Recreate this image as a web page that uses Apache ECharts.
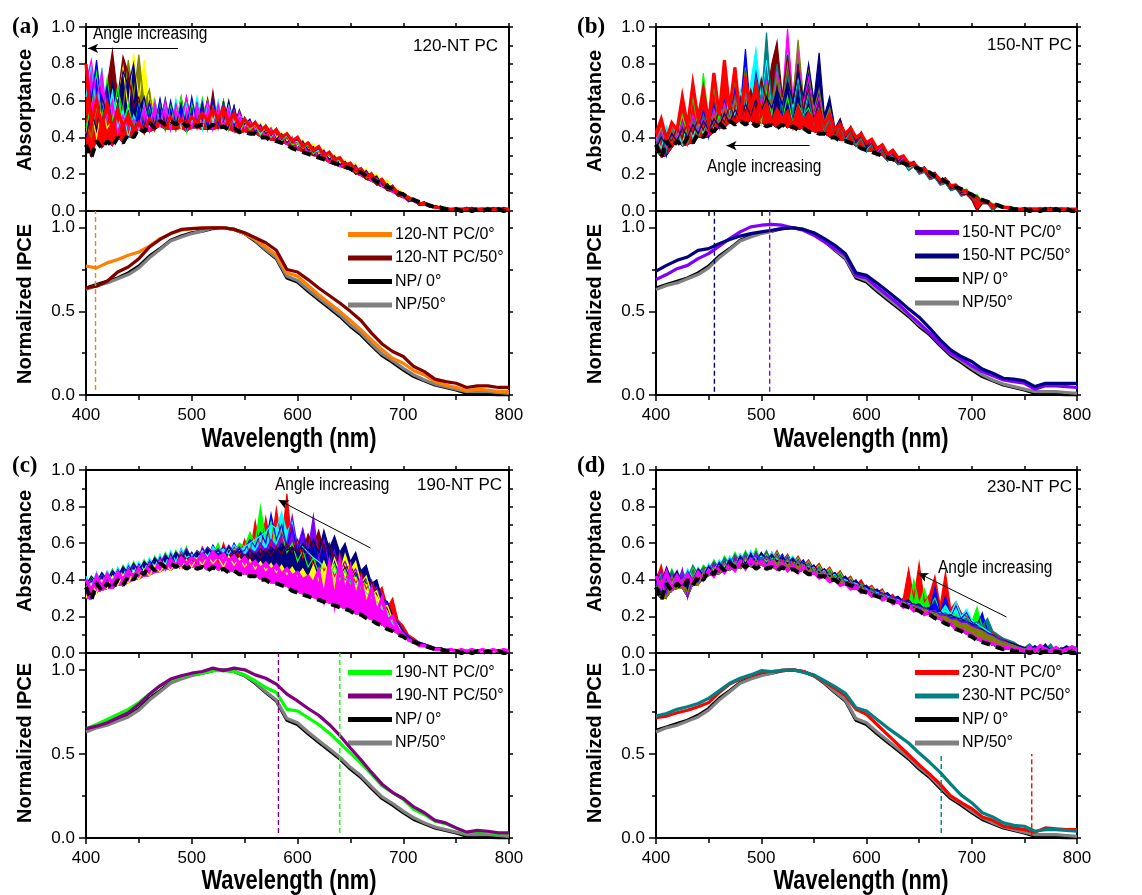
<!DOCTYPE html>
<html><head><meta charset="utf-8">
<script src="https://cdn.jsdelivr.net/npm/echarts@6/dist/echarts.min.js"></script>
<style>html,body{margin:0;padding:0;background:#fff}#c{width:1142px;height:895px}</style>
</head><body><div id="c"></div>
<script>
// ---------- x values ----------
const absWl = [400,405,410,415,420,425,430,435,440,445,450,455,460,465,470,475,480,485,490,495,500,505,510,515,520,525,530,535,540,545,550,555,560,565,570,575,580,585,590,595,600,605,610,615,620,625,630,635,640,645,650,655,660,665,670,675,680,685,690,695,700,705,710,715,720,725,730,735,740,745,750,755,760,765,770,775,780,785,790,795,800];
const ipceWl = [400,410,420,430,440,450,460,470,480,490,500,510,520,530,540,550,560,570,580,590,600,610,620,630,640,650,660,670,680,690,700,710,720,730,740,750,760,770,780,790,800];

// ---------- NP absorptance (dashed, same film in every panel) ----------
const npAbs = [.36,.29,.38,.34,.38,.35,.40,.37,.42,.40,.45,.43,.48,.45,.49,.47,.49,.47,.49,.46,.48,.46,.47,.45,.47,.45,.46,.44,.45,.43,.43,.42,.42,.40,.40,.38,.38,.37,.36,.34,.33,.32,.31,.30,.29,.28,.27,.26,.25,.24,.23,.21,.21,.19,.18,.16,.15,.13,.12,.10,.09,.07,.06,.05,.04,.03,.02,.02,.01,.01,.01,0,.01,0,.01,0,.01,0,.01,0,0];

// ---------- (a) 120-NT PC absorptance ----------
const a_yellow = [.42,.55,.40,.58,.45,.50,.62,.78,.55,.86,.60,.82,.58,.62,.46,.60,.48,.58,.45,.60,.47,.60,.46,.62,.48,.58,.45,.60,.46,.55,.46,.50,.44,.48,.42,.46,.40,.43,.38,.41,.35,.39,.33,.37,.31,.34,.29,.31,.26,.28,.24,.26,.21,.23,.19,.20,.16,.17,.13,.12,.10,.08,.07,.05,.05,.03,.03,.02,.02,.01,.01,.02,.01,.01,.02,.01,.01,.02,.01,.01,.01];
const a_olive = [.48,.40,.56,.45,.60,.50,.66,.55,.82,.62,.85,.58,.66,.46,.60,.44,.58,.47,.62,.45,.59,.46,.61,.44,.58,.47,.60,.44,.57,.45,.50,.45,.48,.43,.47,.41,.45,.38,.42,.36,.40,.34,.37,.31,.35,.29,.32,.27,.29,.25,.26,.22,.23,.18,.21,.16,.18,.12,.14,.09,.10,.06,.07,.04,.05,.02,.03,.02,.02,.01,.02,.01,.01,.02,.01,.01,.01,.01,.02,.01,.01];
const a_wine = [.52,.45,.60,.48,.68,.87,.62,.84,.75,.56,.62,.46,.59,.44,.60,.47,.58,.44,.61,.48,.60,.45,.58,.46,.65,.45,.60,.47,.57,.44,.51,.44,.49,.42,.46,.40,.44,.37,.41,.36,.38,.33,.36,.30,.33,.28,.31,.25,.28,.23,.25,.20,.22,.17,.19,.14,.16,.11,.12,.08,.09,.05,.06,.03,.04,.02,.02,.01,.02,.01,.01,.01,.02,.01,.01,.01,.02,.01,.01,.01,.01];
const a_navy = [.40,.55,.44,.62,.50,.70,.58,.76,.68,.80,.55,.62,.46,.60,.47,.61,.45,.59,.48,.62,.46,.60,.48,.61,.45,.58,.47,.60,.46,.55,.47,.50,.43,.47,.42,.45,.39,.42,.37,.40,.34,.38,.33,.35,.30,.33,.28,.30,.25,.27,.23,.25,.20,.22,.18,.19,.14,.15,.11,.11,.08,.08,.05,.05,.03,.03,.02,.02,.01,.01,.01,.01,.01,.02,.01,.01,.01,.01,.01,.02,.01];
const a_green = [.45,.58,.75,.52,.72,.48,.68,.47,.58,.44,.58,.44,.57,.46,.60,.44,.58,.47,.62,.43,.59,.46,.61,.44,.57,.47,.60,.45,.56,.42,.49,.44,.47,.41,.46,.41,.44,.38,.41,.36,.37,.34,.36,.31,.33,.29,.31,.26,.28,.24,.25,.21,.22,.18,.20,.15,.17,.12,.13,.09,.09,.06,.06,.04,.04,.03,.02,.02,.01,.01,.02,.01,.01,.01,.01,.02,.01,.01,.01,.01,.01];
const a_cyan = [.62,.80,.55,.78,.50,.65,.45,.55,.40,.52,.44,.58,.46,.60,.47,.59,.44,.61,.46,.58,.47,.62,.44,.59,.47,.60,.46,.57,.48,.52,.50,.45,.48,.42,.46,.40,.44,.39,.41,.37,.38,.34,.36,.32,.33,.30,.31,.27,.28,.25,.24,.22,.22,.19,.19,.16,.16,.13,.12,.10,.09,.07,.06,.05,.04,.03,.03,.02,.02,.01,.01,.01,.01,.01,.01,.01,.02,.01,.01,.01,.01];
const a_blue = [.78,.60,.82,.55,.68,.46,.58,.44,.54,.42,.57,.44,.59,.46,.61,.45,.60,.47,.58,.45,.62,.47,.59,.45,.60,.47,.59,.46,.57,.44,.50,.46,.48,.43,.46,.41,.45,.39,.42,.37,.39,.35,.37,.32,.34,.29,.32,.27,.29,.24,.26,.22,.23,.19,.20,.15,.17,.12,.14,.09,.10,.06,.07,.04,.05,.02,.03,.02,.01,.01,.01,.01,.02,.01,.01,.01,.01,.02,.01,.01,.01];
const a_magenta = [.70,.82,.60,.76,.50,.60,.42,.52,.45,.50,.45,.57,.43,.59,.46,.60,.44,.58,.47,.62,.45,.58,.47,.60,.44,.58,.46,.56,.43,.54,.45,.49,.44,.46,.40,.45,.38,.41,.36,.40,.34,.37,.31,.34,.29,.32,.26,.29,.24,.26,.22,.24,.19,.21,.16,.18,.13,.14,.10,.11,.07,.08,.05,.05,.03,.03,.02,.02,.01,.01,.01,.01,.01,.01,.01,.01,.01,.01,.01,.01,.01];
const a_red = [.80,.48,.60,.45,.58,.44,.55,.46,.52,.44,.48,.43,.50,.45,.49,.46,.51,.46,.50,.47,.51,.48,.53,.49,.55,.50,.56,.48,.53,.46,.50,.46,.48,.44,.46,.42,.44,.40,.42,.38,.40,.35,.37,.33,.35,.30,.32,.28,.29,.25,.26,.22,.23,.19,.20,.16,.17,.13,.13,.10,.09,.07,.06,.04,.04,.03,.02,.02,.01,.01,.01,.01,.01,.01,.01,.01,.01,.01,.01,.01,.01];

// ---------- (b) 150-NT PC absorptance ----------
const b_green = [.38,.45,.33,.48,.40,.52,.42,.62,.45,.75,.50,.68,.48,.80,.52,.72,.50,.78,.55,.70,.48,.66,.52,.75,.50,.62,.48,.58,.52,.56,.48,.55,.44,.52,.42,.47,.40,.45,.38,.42,.36,.39,.33,.36,.31,.33,.28,.30,.25,.27,.23,.24,.20,.21,.17,.18,.14,.15,.11,.12,.08,.09,.05,.06,.04,.04,.03,.02,.02,.01,.01,.02,.01,.01,.02,.01,.01,.01,.02,.01,.01];
const b_blue = [.35,.42,.30,.45,.38,.48,.36,.50,.42,.55,.40,.58,.45,.60,.50,.66,.55,.88,.52,.75,.58,.82,.55,.78,.50,.85,.52,.80,.56,.62,.50,.58,.46,.52,.43,.48,.40,.45,.37,.42,.34,.38,.32,.35,.29,.32,.27,.29,.24,.26,.22,.23,.19,.20,.16,.17,.13,.14,.10,.11,.07,.08,.05,.05,.03,.03,.02,.02,.01,.01,.02,.01,.01,.01,.01,.02,.01,.01,.01,.01,.01];
const b_cyan = [.40,.34,.46,.38,.44,.36,.50,.40,.48,.42,.55,.45,.58,.48,.62,.52,.66,.55,.70,.88,.60,.82,.56,.76,.62,.86,.55,.72,.50,.66,.48,.56,.45,.50,.42,.47,.39,.44,.36,.40,.33,.37,.31,.34,.28,.31,.26,.28,.23,.25,.21,.22,.18,.19,.15,.16,.12,.13,.09,.10,.07,.07,.04,.05,.03,.03,.02,.02,.01,.01,.01,.01,.02,.01,.01,.01,.01,.01,.02,.01,.01];
const b_teal = [.36,.42,.32,.44,.38,.46,.40,.50,.42,.52,.45,.55,.48,.58,.50,.62,.52,.65,.55,.72,.60,.97,.58,.80,.55,.75,.52,.70,.50,.62,.47,.55,.44,.50,.41,.46,.38,.43,.35,.40,.32,.36,.30,.33,.27,.30,.25,.27,.22,.24,.20,.21,.17,.18,.14,.15,.11,.12,.08,.09,.06,.06,.04,.04,0,.03,.02,.02,.01,.01,.01,.01,.01,.02,.01,.01,.01,.01,.01,.01,.01];
const b_magenta = [.38,.44,.35,.46,.40,.48,.38,.52,.44,.50,.42,.55,.46,.58,.48,.60,.52,.63,.55,.66,.58,.70,.55,.75,.60,.99,.62,.88,.58,.72,.52,.62,.47,.54,.43,.50,.40,.45,.37,.42,.35,.38,.32,.35,.29,.32,.26,.29,.24,.26,.21,.23,.18,.20,.15,.17,.12,.14,.09,.10,.07,.07,.05,.04,.03,.03,.02,.02,.01,.01,.01,.01,.01,.01,.02,.01,.01,.01,.01,.01,.01];
const b_olive = [.33,.40,.36,.45,.38,.42,.36,.48,.40,.46,.44,.52,.48,.56,.50,.60,.52,.62,.55,.65,.52,.68,.56,.72,.58,.80,.60,.93,.62,.78,.55,.66,.48,.56,.44,.50,.41,.46,.38,.43,.36,.39,.33,.36,.30,.33,.27,.30,.25,.27,.22,.24,.19,.21,.16,.18,.13,.14,.10,.11,.07,.08,.05,.05,.03,.03,.02,.02,.01,.01,.01,.02,.01,.01,.01,.01,.01,.02,.01,.01,.01];
const b_wine = [.36,.32,.42,.38,.45,.40,.48,.42,.50,.44,.52,.46,.55,.48,.58,.50,.62,.54,.66,.56,.72,.60,.80,.92,.62,.85,.58,.78,.55,.66,.50,.58,.46,.52,.42,.48,.40,.44,.37,.41,.34,.37,.31,.34,.29,.31,.26,.28,.24,.25,.21,.22,.18,.19,.15,.16,.12,.13,.09,.09,.06,0,.04,.04,.03,.03,.02,.01,.01,.01,.01,.01,.01,.01,.01,.01,.02,.01,.01,.01,.01];
const b_navy = [.34,.40,.36,.42,.38,.45,.40,.47,.42,.49,.44,.50,.46,.53,.48,.55,.50,.58,.52,.60,.54,.62,.56,.66,.58,.70,.60,.75,.62,.80,.60,.86,.52,.62,.45,.50,.41,.46,.38,.43,.35,.39,.33,.36,.30,.33,.27,.30,.25,.27,.22,.24,.19,.21,.16,.18,.13,.14,.10,.11,.07,.08,.05,.05,.03,.03,.02,.02,.01,.01,.01,.01,.01,.01,.01,.02,.01,.01,.01,.01,.01];
const b_red = [.42,.50,.39,.48,.44,.62,.46,.69,.50,.66,.48,.75,.52,.82,.55,.78,.50,.72,.56,.68,.52,.58,.48,.55,.50,.54,.46,.56,.48,.53,.49,.54,.47,.52,.44,.47,.42,.45,.40,.42,.37,.39,.34,.36,.31,.33,.29,.30,.26,.26,.23,.23,.20,.20,.17,.17,.14,.14,.11,.11,.08,.07,.05,.05,.03,.03,.02,.02,.01,.01,.01,.01,.01,.01,.01,.01,.01,.01,.01,.01,.01];

// ---------- (c) 190-NT PC absorptance ----------
const c_red = [.40,.33,.44,.36,.42,.38,.45,.40,.44,.41,.47,.42,.50,.44,.52,.46,.54,.48,.56,.50,.55,.49,.58,.52,.56,.50,.60,.52,.58,.53,.62,.54,.72,.56,.74,.58,.79,.60,.87,.58,.62,.52,.56,.48,.52,.45,.50,.42,.48,.40,.46,.38,.44,.35,.40,.32,.36,.25,.30,.18,.15,.10,.08,.06,.05,.04,.03,.03,.02,.02,.02,.01,.01,.02,.01,.01,.01,.01,.02,.01,.01];
const c_green = [.36,.42,.38,.44,.40,.46,.41,.48,.43,.50,.44,.51,.46,.53,.48,.55,.50,.56,.52,.58,.50,.56,.52,.58,.54,.60,.52,.57,.55,.60,.58,.66,.60,.80,.62,.72,.58,.66,.55,.60,.50,.56,.47,.52,.44,.50,.42,.48,.40,.45,.38,.43,.35,.40,.30,.34,.24,.26,.17,.16,.11,.08,.07,.05,.04,.04,.03,.02,.02,.01,.01,.02,.01,.01,.01,.01,.02,.01,.01,.01,.01];
const c_blue = [.38,.34,.42,.37,.44,.39,.46,.41,.48,.43,.49,.44,.51,.46,.53,.47,.55,.49,.57,.51,.55,.50,.57,.52,.59,.54,.58,.53,.60,.55,.56,.62,.58,.66,.60,.76,.62,.70,.58,.68,.56,.67,.52,.60,.48,.55,.45,.50,.42,.47,.40,.44,.37,.41,.32,.35,.25,.28,.18,.17,.12,.09,.07,.06,.05,.04,.03,.03,.02,.02,.01,.01,.02,.01,.01,.01,.01,.02,.01,.01,.01];
const c_cyan = [.42,.37,.44,.38,.45,.40,.47,.42,.49,.44,.50,.45,.52,.47,.54,.48,.56,.50,.57,.52,.54,.51,.56,.53,.58,.55,.57,.54,.59,.56,.58,.60,.62,.64,.66,.70,.68,.77,.66,.72,.60,.58,.55,.52,.50,.47,.46,.44,.43,.41,.40,.38,.36,.33,.30,.28,.24,.22,.16,.14,.10,.08,.06,.05,.04,.03,.03,.02,.02,.01,.01,.01,.01,.01,.02,.01,.01,.01,.01,.01,.01];
const c_violet = [.35,.40,.37,.43,.39,.45,.41,.47,.43,.48,.45,.50,.47,.52,.49,.54,.50,.55,.52,.57,.52,.56,.54,.58,.55,.57,.54,.59,.55,.58,.53,.57,.55,.60,.56,.62,.58,.65,.60,.75,.58,.68,.56,.75,.52,.62,.48,.56,.45,.50,.42,.46,.38,.42,.33,.36,.26,.27,.18,.15,.10,.08,.06,.05,.04,.03,.03,.02,.02,.02,.01,.01,.01,.02,.01,.01,.01,.01,.01,.01,.01];
const c_wine = [.39,.35,.41,.37,.43,.39,.45,.40,.46,.42,.47,.43,.49,.45,.51,.47,.52,.48,.54,.50,.51,.49,.53,.51,.55,.52,.54,.51,.56,.52,.54,.51,.55,.52,.57,.53,.58,.54,.60,.55,.62,.55,.65,.58,.67,.56,.60,.50,.54,.46,.48,.42,.44,.38,.38,.32,.28,.24,.18,.14,.10,.07,.06,.04,.04,.03,.02,.02,.01,.01,.01,.02,.01,.01,.01,.01,.01,.02,.01,.01,.01];
const c_navy = [.37,.42,.39,.44,.40,.45,.42,.47,.44,.49,.45,.50,.47,.52,.48,.53,.50,.55,.51,.56,.52,.55,.53,.57,.54,.56,.53,.58,.54,.57,.52,.56,.53,.57,.54,.58,.55,.60,.56,.58,.54,.60,.56,.62,.55,.67,.57,.64,.55,.60,.50,.55,.45,.48,.38,.40,.30,.28,.20,.16,.11,.08,.06,.05,.04,.03,.03,.02,.02,.01,.01,.01,.01,.01,.01,.02,.01,.01,.01,.01,.01];
const c_yellow = [.30,.38,.33,.40,.35,.42,.37,.43,.38,.45,.40,.46,.42,.48,.44,.49,.45,.50,.46,.51,.47,.52,.48,.53,.49,.52,.47,.53,.48,.52,.47,.51,.46,.50,.45,.49,.44,.48,.43,.47,.42,.46,.41,.48,.40,.50,.42,.52,.44,.54,.45,.50,.38,.42,.32,.34,.25,.26,.18,.15,.10,.07,.06,.04,.03,.03,.02,.02,.01,.01,.01,.01,.02,.01,.01,.01,.01,.01,.01,.02,.01];
const c_magenta = [.40,.34,.42,.36,.43,.38,.44,.40,.45,.42,.46,.43,.48,.45,.50,.46,.51,.48,.52,.49,.52,.50,.54,.51,.55,.52,.54,.50,.53,.49,.52,.48,.50,.46,.49,.45,.48,.43,.46,.42,.44,.40,.42,.38,.45,.30,.48,.28,.50,.32,.46,.30,.40,.25,.35,.22,.30,.18,.20,.13,.10,.07,.06,.04,.04,.03,.02,.02,.01,.02,.01,.02,.01,.02,.01,.02,.01,.02,.01,.02,.01];

// ---------- (d) 230-NT PC absorptance ----------
const d_red = [.40,.48,.36,.45,.38,.44,.40,.46,.41,.47,.44,.50,.45,.52,.47,.54,.48,.55,.50,.56,.49,.55,.51,.56,.50,.54,.49,.53,.48,.51,.46,.49,.44,.47,.42,.45,.40,.42,.37,.40,.35,.37,.33,.35,.30,.32,.28,.30,.46,.30,.49,.28,.32,.42,.26,.44,.24,.28,.22,.20,.18,.16,.15,.12,.11,.09,.08,.06,.05,.04,.03,.02,.03,.01,.02,.01,.03,.02,.01,.02,.02];
const d_green = [.36,.44,.38,.46,.40,.45,.39,.47,.42,.48,.45,.51,.46,.53,.48,.55,.49,.56,.50,.57,.50,.54,.51,.55,.49,.53,.48,.52,.47,.50,.45,.48,.43,.46,.41,.44,.39,.41,.36,.38,.34,.36,.32,.34,.30,.31,.28,.29,.26,.40,.27,.35,.25,.30,.23,.24,.22,.21,.20,.19,.17,.25,.14,.12,.10,.08,.07,.05,.04,.03,.02,.03,.01,.02,.03,.01,.02,.01,.02,.01,.02];
const d_blue = [.38,.33,.42,.36,.44,.38,.45,.40,.46,.42,.48,.44,.50,.46,.52,.48,.54,.49,.55,.50,.54,.49,.55,.50,.54,.49,.52,.48,.51,.46,.48,.44,.46,.42,.44,.40,.41,.38,.39,.36,.36,.33,.34,.31,.32,.29,.30,.27,.28,.25,.26,.24,.23,.36,.22,.31,.20,.26,.19,.22,.17,.15,.22,.12,.10,.08,.06,.05,.04,.03,.03,.02,.04,.01,.02,.02,.01,.03,.01,.02,.02];
const d_cyan = [.42,.36,.44,.37,.43,.39,.46,.41,.47,.43,.49,.45,.51,.47,.53,.48,.54,.50,.56,.51,.53,.50,.55,.51,.53,.50,.53,.48,.50,.47,.47,.45,.45,.43,.43,.41,.40,.39,.38,.37,.35,.34,.33,.32,.31,.30,.29,.28,.27,.26,.25,.24,.23,.22,.22,.26,.21,.28,.20,.24,.18,.16,.14,.12,.10,.08,.07,.05,.04,.03,.02,.03,.02,.01,.02,.01,.02,.02,.01,.03,.01];
const d_teal = [.35,.42,.37,.45,.39,.44,.41,.48,.43,.47,.46,.50,.47,.52,.49,.54,.50,.55,.51,.54,.51,.56,.50,.54,.49,.53,.47,.51,.46,.49,.44,.47,.42,.45,.40,.43,.38,.40,.36,.38,.34,.35,.32,.33,.30,.31,.28,.29,.26,.27,.25,.25,.23,.23,.21,.22,.20,.20,.18,.19,.16,.17,.15,.19,.12,.10,.08,.07,.06,.04,.03,.05,.02,.04,.02,.05,.01,.03,.02,.04,.03];
const d_olive = [.33,.40,.30,.42,.35,.40,.33,.43,.37,.44,.42,.47,.43,.49,.45,.50,.46,.52,.47,.51,.48,.52,.49,.53,.47,.51,.46,.50,.45,.48,.43,.46,.41,.44,.39,.42,.37,.39,.35,.37,.33,.34,.31,.32,.29,.30,.27,.28,.25,.26,.24,.24,.22,.22,.20,.20,.18,.18,.16,.16,.14,.13,.12,.10,.09,.07,.06,.05,.04,.03,.02,.02,.01,.01,.02,.01,.01,.02,.01,.01,.01];
const d_navy = [.44,.38,.47,.40,.45,.38,.44,.40,.46,.43,.47,.44,.49,.46,.51,.47,.53,.49,.54,.50,.55,.51,.54,.50,.53,.49,.52,.48,.50,.46,.48,.44,.46,.42,.44,.40,.42,.38,.40,.36,.37,.34,.35,.32,.33,.30,.31,.28,.29,.26,.27,.24,.25,.22,.23,.20,.21,.19,.19,.17,.16,.14,.13,.11,.10,.08,.07,.06,.05,.04,.03,.02,.04,.02,.05,.01,.03,.02,.04,.02,.03];
const d_violet = [.37,.45,.33,.43,.36,.46,.30,.41,.38,.44,.43,.49,.45,.50,.46,.52,.48,.53,.49,.55,.50,.53,.49,.54,.48,.52,.47,.51,.45,.49,.44,.46,.42,.44,.40,.42,.38,.40,.36,.37,.34,.35,.32,.33,.30,.31,.28,.29,.26,.27,.24,.25,.23,.23,.21,.21,.19,.19,.17,.17,.15,.14,.12,.11,.09,.08,.07,.05,.04,.03,.02,.01,.02,.01,.03,.01,.02,.01,.02,.01,.02];
const d_magenta = [.42,.36,.44,.35,.42,.37,.43,.38,.44,.40,.45,.42,.47,.44,.48,.45,.50,.46,.51,.47,.50,.47,.50,.46,.49,.45,.48,.44,.47,.43,.44,.41,.42,.39,.40,.37,.38,.35,.36,.33,.34,.31,.32,.29,.30,.27,.28,.25,.26,.23,.24,.21,.22,.19,.19,.16,.16,.13,.13,.11,.10,.08,.07,.06,.05,.04,.03,.03,.02,.02,.01,.03,.01,.04,.02,.01,.03,.01,.02,.03,.02];

// ---------- normalized IPCE ----------
const npIpce0 = [.64,.66,.68,.70,.73,.77,.83,.875,.925,.95,.97,.98,.995,1.0,.99,.965,.92,.865,.815,.70,.675,.62,.57,.52,.47,.41,.36,.295,.235,.195,.15,.11,.085,.06,.045,.03,.01,.005,.005,0,0];
const npIpce50 = [.63,.655,.67,.695,.72,.76,.82,.87,.92,.945,.965,.98,1.0,1.0,.99,.965,.925,.87,.82,.71,.685,.63,.58,.53,.48,.42,.37,.305,.245,.205,.16,.12,.09,.065,.05,.035,.02,.02,.02,.015,.01];
const ipce120_0 = [.77,.76,.79,.81,.835,.855,.89,.935,.965,.985,.995,1.0,1.0,1.0,.99,.965,.93,.885,.835,.73,.71,.655,.60,.55,.50,.445,.39,.33,.27,.22,.19,.145,.12,.08,.06,.045,.025,.035,.03,.02,.02];
const ipce120_50 = [.64,.65,.68,.735,.765,.815,.885,.93,.965,.99,.995,.998,1.0,1.0,.99,.97,.94,.91,.865,.75,.735,.69,.64,.595,.55,.50,.445,.37,.305,.26,.23,.17,.14,.095,.08,.07,.045,.055,.055,.045,.045];
const ipce150_0 = [.69,.72,.755,.775,.815,.845,.89,.935,.975,1.005,1.015,1.02,1.015,1.0,.985,.955,.915,.875,.835,.715,.70,.645,.595,.545,.485,.43,.37,.305,.25,.215,.175,.14,.115,.09,.08,.07,.035,.055,.055,.05,.045];
const ipce150_50 = [.74,.775,.805,.825,.865,.875,.905,.93,.95,.965,.975,.985,.995,1.0,.99,.97,.935,.895,.845,.73,.715,.67,.62,.57,.515,.465,.40,.33,.27,.23,.20,.155,.13,.10,.095,.085,.05,.07,.07,.07,.07];
const ipce190_0 = [.65,.675,.705,.735,.765,.805,.855,.905,.94,.96,.975,.98,.995,.995,.99,.97,.935,.895,.865,.765,.755,.715,.675,.625,.565,.505,.445,.38,.31,.27,.23,.17,.14,.10,.085,.06,.03,.04,.035,.025,.025];
const ipce190_50 = [.65,.665,.685,.715,.745,.795,.855,.905,.945,.965,.98,.99,1.01,.995,1.01,1.0,.97,.95,.915,.855,.815,.77,.73,.675,.61,.535,.465,.39,.32,.27,.235,.185,.15,.105,.09,.06,.035,.045,.04,.03,.03];
const ipce230_0 = [.715,.725,.745,.76,.78,.805,.865,.915,.945,.965,.985,.99,.995,1.0,.99,.965,.93,.89,.845,.765,.735,.675,.615,.555,.495,.435,.38,.32,.25,.21,.175,.125,.105,.07,.06,.05,.035,.06,.055,.05,.05];
const ipce230_50 = [.725,.74,.765,.78,.80,.83,.875,.92,.95,.97,.995,.99,.995,1.0,.985,.97,.935,.90,.86,.775,.755,.705,.655,.61,.565,.505,.45,.39,.32,.255,.21,.15,.125,.09,.075,.07,.04,.05,.05,.045,.04];

// vertical markers: [wavelength, from, to]
const vlineA0 = [409, 0.03, 1.1];
const vlineB0 = [508, 0.02, 1.1];
const vlineB50 = [455.5, 0.02, 1.1];
const vlineC0 = [640, 0.03, 1.1];
const vlineC50 = [582, 0.03, 1.1];
const vlineD0 = [757, 0.01, 0.5];
const vlineD50 = [671, 0.03, 0.5];

// "Angle increasing" arrows: [tail], [head] in data units
const arrowA = [[487, 0.884], [402, 0.884]];
const arrowB = [[546, 0.355], [467, 0.355]];
const arrowC = [[669, 0.574], [582, 0.836]];
const arrowD = [[733, 0.197], [649, 0.437]];

const legendNames = {
  a: ['120-NT PC/0°', '120-NT PC/50°'],
  b: ['150-NT PC/0°', '150-NT PC/50°'],
  c: ['190-NT PC/0°', '190-NT PC/50°'],
  d: ['230-NT PC/0°', '230-NT PC/50°']
};
const npNames = ['NP/ 0°', 'NP/50°'];
const sampleNames = ['120-NT PC', '150-NT PC', '190-NT PC', '230-NT PC'];
const panelLetters = ['(a)', '(b)', '(c)', '(d)'];

// ---------- build ----------
const FONT = "'Liberation Sans', Arial, sans-serif";
const SERIF = "'Liberation Serif', 'Times New Roman', serif";

// topMode: 'last' = highlighted curve filled above the other bands, 'line' = line only
const panels = [
  { abs: [[a_yellow,'#FFFF00'],[a_olive,'#808000'],[a_wine,'#800000'],[a_navy,'#000080'],[a_green,'#00FF00'],[a_cyan,'#00FFFF'],[a_blue,'#0000FF'],[a_magenta,'#FF00FF']],
    top: [a_red,'#FF0000'], topMode: 'last', pc0: [ipce120_0,'#FF8000'], pc50: [ipce120_50,'#800000'], names: legendNames.a,
    v0: vlineA0, v50: null, arrow: arrowA },
  { abs: [[b_green,'#00FF00'],[b_blue,'#0000FF'],[b_cyan,'#00FFFF'],[b_teal,'#008080'],[b_magenta,'#FF00FF'],[b_olive,'#808000'],[b_wine,'#800000'],[b_navy,'#000080']],
    top: [b_red,'#FF0000'], topMode: 'last', pc0: [ipce150_0,'#8000FF'], pc50: [ipce150_50,'#000080'], names: legendNames.b,
    v0: vlineB0, v50: vlineB50, arrow: arrowB },
  { abs: [[c_red,'#FF0000'],[c_green,'#00FF00'],[c_blue,'#0000FF'],[c_cyan,'#00FFFF'],[c_violet,'#8000FF'],[c_wine,'#800000'],[c_navy,'#000080'],[c_yellow,'#FFFF00']],
    top: [c_magenta,'#FF00FF'], topMode: 'last', pc0: [ipce190_0,'#00FF00'], pc50: [ipce190_50,'#800080'], names: legendNames.c,
    v0: vlineC0, v50: vlineC50, arrow: arrowC },
  { abs: [[d_red,'#FF0000'],[d_green,'#00FF00'],[d_blue,'#0000FF'],[d_cyan,'#00FFFF'],[d_teal,'#008080'],[d_navy,'#000080'],[d_violet,'#8000FF'],[d_olive,'#808000']],
    top: [d_magenta,'#FF00FF'], topMode: 'line', pc0: [ipce230_0,'#FF0000'], pc50: [ipce230_50,'#008080'], names: legendNames.d,
    v0: vlineD0, v50: vlineD50, arrow: arrowD }
];

const layout = [
  { abs:{left:86, top:27, width:423, height:184}, ipce:{left:86, top:211, width:423, height:184},
    legend:{left:348, top:225}, letter:[12,27], sample:[498,46], angle:[93,34], yTitleX:25, absTitleY:110, ipceTitleY:304, wlTitle:[289,439] },
  { abs:{left:656, top:27, width:421, height:184}, ipce:{left:656, top:211, width:421, height:184},
    legend:{left:915, top:223}, letter:[577,27], sample:[1072,45], angle:[707,167], yTitleX:595, absTitleY:111, ipceTitleY:304, wlTitle:[861,439] },
  { abs:{left:86, top:470, width:423, height:183}, ipce:{left:86, top:653, width:423, height:185},
    legend:{left:348, top:663}, letter:[12,466], sample:[502,485], angle:[275,485], yTitleX:25, absTitleY:551, ipceTitleY:743, wlTitle:[289,881] },
  { abs:{left:656, top:470, width:421, height:183}, ipce:{left:656, top:653, width:421, height:185},
    legend:{left:915, top:663}, letter:[577,466], sample:[1072,487], angle:[938,568], yTitleX:595, absTitleY:551, ipceTitleY:743, wlTitle:[861,881] }
];

const zip = (xs, ys) => xs.map((x, i) => [x, ys[i]]);
const blk = '#000';
const line2 = {show:true, onZero:false, lineStyle:{color:blk, width:2}};
const tickStyle = {color:blk, width:1.5};

const grid = [], xAxis = [], yAxis = [], series = [], legend = [], graphic = [];

panels.forEach((p, k) => {
  const L = layout[k];
  grid.push(Object.assign({containLabel:false}, L.abs));
  grid.push(Object.assign({containLabel:false}, L.ipce));
  const ga = 2*k, gi = 2*k + 1;
  xAxis.push({type:'category', gridIndex:ga, data:absWl, boundaryGap:false, position:'bottom', axisLine:line2,
    axisTick:{show:true, length:5, interval:9, alignWithLabel:true, lineStyle:tickStyle}, axisLabel:{show:false}, splitLine:{show:false}});
  xAxis.push({type:'value', gridIndex:ga, min:400, max:800, interval:50, position:'top', axisLine:line2,
    axisTick:{show:true, length:4, lineStyle:tickStyle}, axisLabel:{show:false}, splitLine:{show:false}});
  xAxis.push({type:'value', gridIndex:gi, min:400, max:800, interval:100, position:'bottom', axisLine:line2,
    axisTick:{show:true, length:6, lineStyle:tickStyle}, minorTick:{show:true, splitNumber:2, length:5, lineStyle:tickStyle},
    axisLabel:{show:true, color:blk, fontFamily:FONT, fontSize:17, margin:12}, splitLine:{show:false}, minorSplitLine:{show:false}});
  yAxis.push({type:'value', gridIndex:ga, min:0, max:1, interval:0.2, position:'left', axisLine:line2,
    axisTick:{show:true, length:7, lineStyle:tickStyle}, minorTick:{show:true, splitNumber:2, length:4, lineStyle:tickStyle},
    axisLabel:{color:blk, fontFamily:FONT, fontSize:17, margin:11, formatter:v => v.toFixed(1)}, splitLine:{show:false}, minorSplitLine:{show:false}});
  yAxis.push({type:'value', gridIndex:ga, min:0, max:1, interval:0.1, position:'right', axisLine:line2,
    axisTick:{show:true, length:4, lineStyle:tickStyle}, axisLabel:{show:false}, splitLine:{show:false}});
  yAxis.push({type:'value', gridIndex:gi, min:0, max:1.1, interval:0.5, position:'left', axisLine:line2,
    axisTick:{show:true, length:7, lineStyle:tickStyle}, minorTick:{show:true, splitNumber:2, length:4, lineStyle:tickStyle},
    axisLabel:{color:blk, fontFamily:FONT, fontSize:17, margin:11,
      formatter:v => (Math.abs(v*2 - Math.round(v*2)) < 1e-6 ? v.toFixed(1) : '')}, splitLine:{show:false}, minorSplitLine:{show:false}});
  yAxis.push({type:'value', gridIndex:gi, min:0, max:1.1, interval:0.25, position:'right', axisLine:line2,
    axisTick:{show:true, length:4, lineStyle:tickStyle}, axisLabel:{show:false}, splitLine:{show:false}});

  const xa = 3*k, xt = 3*k + 1, xi = 3*k + 2, ya = 4*k, yi = 4*k + 2;
  let order = p.abs.slice();
  if (p.topMode === 'last') order = order.concat([p.top]);
  // each curve is a filled band from the lowest curve of the panel (incl. NP) up to it
  const env = absWl.map((_, i) => Math.min(npAbs[i], ...order.map(s => s[0][i])));
  order.forEach(([d, c], j) => {
    const id = k + '_' + j;
    series.push({type:'line', name:'base'+id, xAxisIndex:xa, yAxisIndex:ya, stack:'st'+id, data:env,
      symbol:'none', silent:true, lineStyle:{opacity:0, width:0}, z:2});
    series.push({type:'line', name:'band'+id, xAxisIndex:xa, yAxisIndex:ya, stack:'st'+id, data:d.map((y, i) => y - env[i]),
      symbol:'none', silent:true, lineStyle:{color:c, width:1.2, join:'miter', miterLimit:8}, itemStyle:{color:c},
      areaStyle:{color:c, opacity:1}, z:2});
  });
  series.push({type:'line', name:'absTop'+k, xAxisIndex:xa, yAxisIndex:ya, data:p.top[0], symbol:'none', silent:true,
    lineStyle:{color:p.top[1], width:3.2, join:'miter', miterLimit:8}, itemStyle:{color:p.top[1]}, z:3});
  series.push({type:'line', name:'absNP'+k, xAxisIndex:xt, yAxisIndex:ya, data:zip(absWl, npAbs), symbol:'none', silent:true,
    lineStyle:{color:blk, width:4, type:[9,6]}, itemStyle:{color:blk}, z:4,
    markLine:{silent:true, symbol:['none','arrow'], symbolSize:[7,10], label:{show:false},
      lineStyle:{color:blk, width:1, type:'solid'},
      data:[[{coord:p.arrow[0]}, {coord:p.arrow[1]}]]}});
  const ipceLine = (name, d, c, z) => ({type:'line', name, xAxisIndex:xi, yAxisIndex:yi, data:zip(ipceWl, d), symbol:'none', silent:true,
    lineStyle:{color:c, width:3.2}, itemStyle:{color:c}, z});
  series.push(ipceLine(npNames[0], npIpce0, '#000000', 3));
  series.push(ipceLine(npNames[1], npIpce50, '#808080', 3));
  series.push(ipceLine(p.names[0], p.pc0[0], p.pc0[1], 4));
  series.push(ipceLine(p.names[1], p.pc50[0], p.pc50[1], 5));
  const vl = (v, c) => ({type:'line', name:'vline'+k+c, xAxisIndex:xi, yAxisIndex:yi, data:[[v[0], v[1]], [v[0], v[2]]],
    symbol:'none', silent:true, lineStyle:{color:c, width:1.4, type:[5,3]}, z:6});
  if (p.v0) series.push(vl(p.v0, p.pc0[1]));
  if (p.v50) series.push(vl(p.v50, p.pc50[1]));

  legend.push({data:[p.names[0], p.names[1], npNames[0], npNames[1]], left:L.legend.left, top:L.legend.top, orient:'vertical',
    padding:0, icon:'rect', itemWidth:44, itemHeight:5, itemGap:4.5, selectedMode:false,
    textStyle:{fontFamily:FONT, fontSize:16, lineHeight:19, color:blk, padding:[0,0,0,-2]}});

  graphic.push({type:'text', x:L.letter[0], y:L.letter[1], style:{text:panelLetters[k], fontFamily:SERIF, fontWeight:'bold', fontSize:23, fill:blk, verticalAlign:'middle'}});
  graphic.push({type:'text', x:L.sample[0], y:L.sample[1], style:{text:sampleNames[k], fontFamily:FONT, fontSize:17, fill:blk, align:'right', verticalAlign:'middle'}});
  graphic.push({type:'text', x:L.angle[0], y:L.angle[1], scaleX:0.86, style:{text:'Angle increasing', fontFamily:FONT, fontSize:18, fill:blk, verticalAlign:'middle'}});
  graphic.push({type:'text', x:L.yTitleX, y:L.absTitleY, rotation:Math.PI/2, style:{text:'Absorptance', fontFamily:FONT, fontWeight:'bold', fontSize:20, fill:blk, align:'center', verticalAlign:'middle'}});
  graphic.push({type:'text', x:L.yTitleX, y:L.ipceTitleY, rotation:Math.PI/2, style:{text:'Normalized IPCE', fontFamily:FONT, fontWeight:'bold', fontSize:20, fill:blk, align:'center', verticalAlign:'middle'}});
  graphic.push({type:'text', x:L.wlTitle[0], y:L.wlTitle[1], scaleX:0.78, style:{text:'Wavelength (nm)', fontFamily:FONT, fontWeight:'bold', fontSize:28, fill:blk, align:'center', verticalAlign:'middle'}});
});

const chart = echarts.init(document.getElementById('c'), null, {renderer:'canvas'});
chart.setOption({animation:false, backgroundColor:'#fff', grid, xAxis, yAxis, series, legend, graphic});
</script></body></html>
